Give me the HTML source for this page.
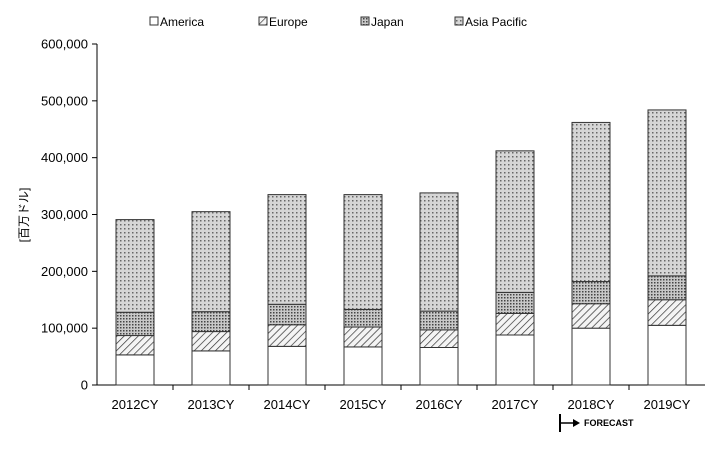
<!DOCTYPE html>
<html><head><meta charset="utf-8"><style>
body{margin:0;background:#fff;}
svg{font-family:"Liberation Sans","Noto Sans CJK JP",sans-serif;}
</style></head><body>
<svg id="chart" width="728" height="449">
<defs>
<pattern id="pEu" width="5" height="5" patternUnits="userSpaceOnUse" patternTransform="rotate(45)"><rect width="5" height="5" fill="#f4f4f4"/><line x1="0" y1="0" x2="0" y2="5" stroke="#333" stroke-width="1.4"/></pattern>
<pattern id="pJp" width="3" height="3" patternUnits="userSpaceOnUse"><rect width="3" height="3" fill="#c8c8c8"/><rect width="1.5" height="1.5" fill="#444"/></pattern>
<pattern id="pAp" width="4" height="4" patternUnits="userSpaceOnUse"><rect width="4" height="4" fill="#d6d6d6"/><rect width="1.5" height="1.5" fill="#666"/></pattern>
</defs>
<g id="legend"></g>
<g id="axes"></g>
<g id="bars"></g>
<text x="28" y="215" font-size="12" transform="rotate(-90 28 215)" text-anchor="middle">[百万ドル]</text>
<g>
<line x1="560" y1="414" x2="560" y2="432" stroke="#000" stroke-width="2"/>
<line x1="560" y1="423" x2="576" y2="423" stroke="#000" stroke-width="1.5"/>
<polygon points="580,423 573,419 573,427" fill="#000"/>
<text x="584" y="426" font-size="9" font-weight="bold">FORECAST</text>
</g>
</svg>
<script>
const categories=["2012CY","2013CY","2014CY","2015CY","2016CY","2017CY","2018CY","2019CY"];
const america=[53000,60000,68000,67000,66000,88000,100000,105000];
const europe=[34000,34000,38000,35000,31000,38000,43000,45000];
const japan=[41000,35000,36000,31000,33000,37000,39000,42000];
const asiaPacific=[163000,176000,193000,202000,208000,249000,280000,292000];
const yTicks=[0,100000,200000,300000,400000,500000,600000];
const seriesNames=["America","Europe","Japan","Asia Pacific"];
const fills=["#fff","url(#pEu)","url(#pJp)","url(#pAp)"];
const NS="http://www.w3.org/2000/svg";
const x0=97,x1=705,y0=385,y1=44,yMax=600000;
const y=v=>y0-(v/yMax)*(y0-y1);
const step=(x1-x0)/categories.length;
const xc=i=>x0+step*(i+0.5);
function mk(t,a,p){const e=document.createElementNS(NS,t);for(const k in a)e.setAttribute(k,a[k]);p.appendChild(e);return e;}
const ax=document.getElementById('axes');
const yl=mk('line',{x1:x0,y1:y1,x2:x0,y2:y0,stroke:'#000'},ax);


const xl=mk('line',{x1:x0,y1:y0,x2:x1,y2:y0,stroke:'#000'},ax);


yTicks.forEach(v=>{
 mk('line',{x1:x0-5,y1:y(v),x2:x0,y2:y(v),stroke:'#000'},ax);
 const t=mk('text',{x:x0-9,y:y(v)+4.5,'font-size':13,'text-anchor':'end'},ax);
 t.textContent=v.toLocaleString('en-US');
 
 
});
for(let i=1;i<categories.length;i++) mk('line',{x1:x0+step*i,y1:y0,x2:x0+step*i,y2:y0+5,stroke:'#000'},ax);
const bg=document.getElementById('bars');
const data=[america,europe,japan,asiaPacific];
categories.forEach((c,i)=>{
 let base=0;
 data.forEach((s,k)=>{
  const top=base+s[i];
  const r=mk('rect',{x:xc(i)-19,y:y(top),width:38,height:y(base)-y(top),fill:fills[k],stroke:'#333','stroke-width':1},bg);
  
  
  base=top;
 });
 const t=mk('text',{x:xc(i),y:y0+24,'font-size':13,'text-anchor':'middle'},ax);
 t.textContent=c;
 
 
});
const lg=document.getElementById('legend');
const lx=[150,259,361,455];
seriesNames.forEach((n,k)=>{
 const r=mk('rect',{x:lx[k],y:17,width:8,height:8,fill:fills[k],stroke:'#333'},lg);
 
 
 const t=mk('text',{x:lx[k]+10,y:26,'font-size':12},lg);
 t.textContent=n;
 
 
});
</script>
</body></html>
